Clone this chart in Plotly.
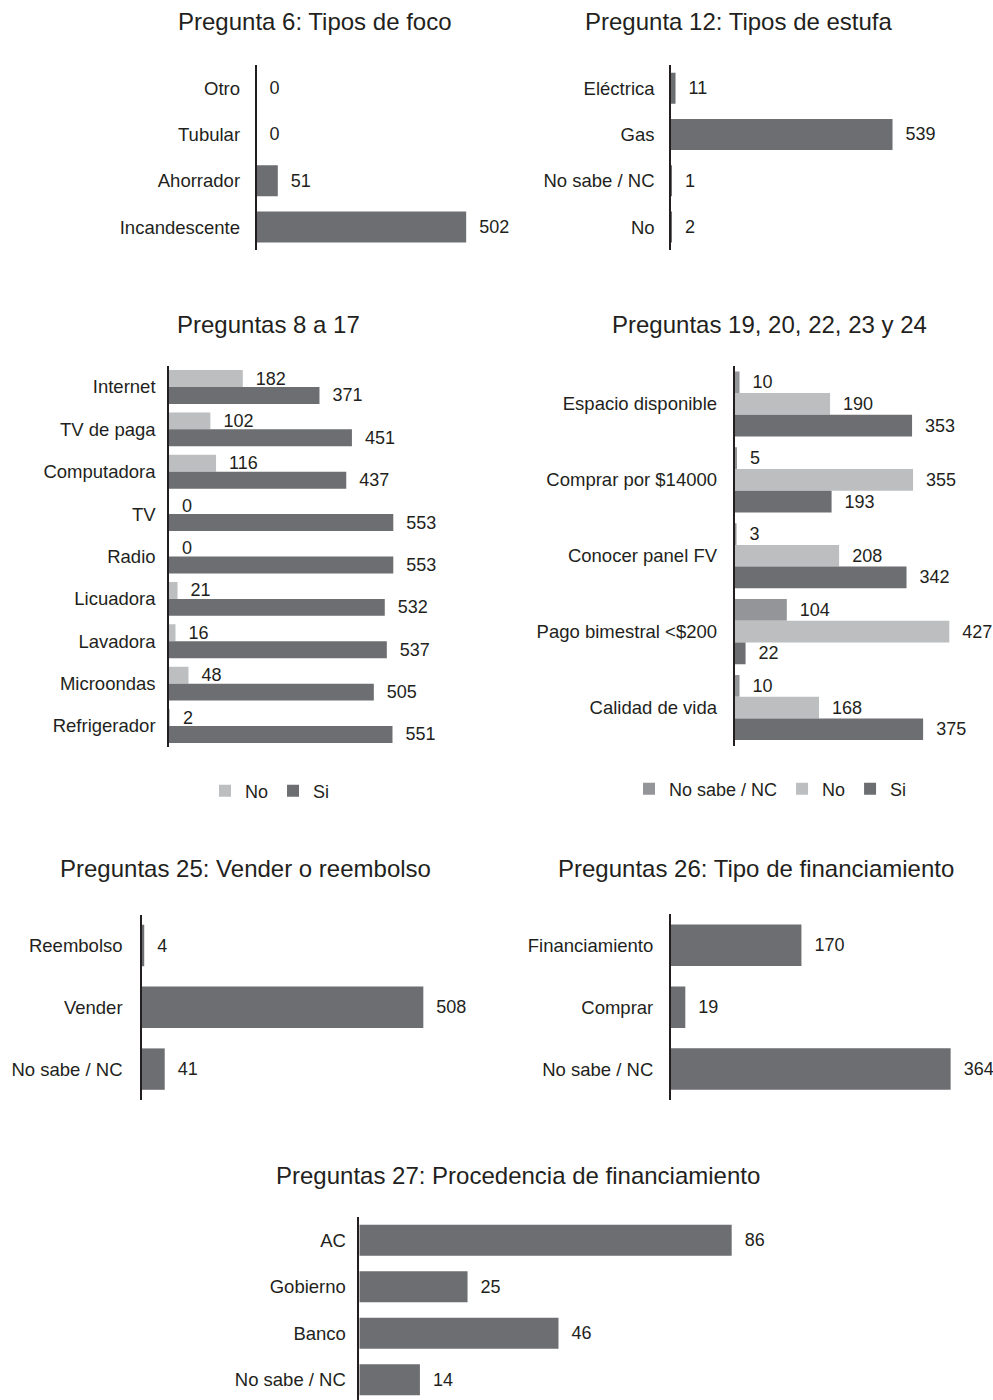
import plotly.graph_objects as go

# ---------------- data ----------------
p6_cats = ["Otro", "Tubular", "Ahorrador", "Incandescente"]
p6_vals = [0, 0, 51, 502]

p12_cats = ["Eléctrica", "Gas", "No sabe / NC", "No"]
p12_vals = [11, 539, 1, 2]

p8_cats = ["Internet", "TV de paga", "Computadora", "TV", "Radio",
           "Licuadora", "Lavadora", "Microondas", "Refrigerador"]
p8_no = [182, 102, 116, 0, 0, 21, 16, 48, 2]
p8_si = [371, 451, 437, 553, 553, 532, 537, 505, 551]

p19_cats = ["Espacio disponible", "Comprar por $14000", "Conocer panel FV",
            "Pago bimestral <$200", "Calidad de vida"]
p19_nc = [10, 5, 3, 104, 10]
p19_no = [190, 355, 208, 427, 168]
p19_si = [353, 193, 342, 22, 375]

p25_cats = ["Reembolso", "Vender", "No sabe / NC"]
p25_vals = [4, 508, 41]

p26_cats = ["Financiamiento", "Comprar", "No sabe / NC"]
p26_vals = [170, 19, 364]

p27_cats = ["AC", "Gobierno", "Banco", "No sabe / NC"]
p27_vals = [86, 25, 46, 14]

titles = ["Pregunta 6: Tipos de foco", "Pregunta 12: Tipos de estufa",
          "Preguntas 8 a 17", "Preguntas 19, 20, 22, 23 y 24",
          "Preguntas 25: Vender o reembolso", "Preguntas 26: Tipo de financiamiento",
          "Preguntas 27: Procedencia de financiamiento"]

# ---------------- style ----------------
W, H = 993, 1400
FONT = "Liberation Sans, Arial, sans-serif"
TXT = "#231f20"
DARK = "#6d6e71"
LIGHT = "#bcbec0"
MID = "#939598"
PAD = "\u00a0\u00a0"


def px_x(p):
    return p / W


def px_y(p):
    return 1 - p / H


fig = go.Figure()

panels = {
    1: dict(x0=256.5, s=0.4177, R=600, yt=65, yb=250.2, n=4, so=11),
    2: dict(x0=671.0, s=0.411, R=600, yt=65, yb=250.2, n=4, so=11),
    3: dict(x0=169.0, s=0.4056, R=600, yt=365.8, yb=747.2, n=9, so=8),
    4: dict(x0=734.5, s=0.503, R=450, yt=366, yb=745.5, n=5, so=12),
    5: dict(x0=142.0, s=0.5538, R=550, yt=914.6, yb=1100, n=3, so=14),
    6: dict(x0=670.7, s=0.769, R=400, yt=914.4, yb=1100, n=3, so=12),
    7: dict(x0=359.3, s=4.33, R=100, yt=1217, yb=1400, n=4, so=8),
}


def add_bar(k, cats, vals, color, name, width, offset, legend=None, showlegend=False):
    fig.add_trace(go.Bar(
        y=cats, x=vals, orientation="h", name=name,
        marker=dict(color=color, line=dict(width=0)),
        width=width, offset=offset,
        text=vals, texttemplate=PAD + "%{x}", textposition="outside",
        textfont=dict(family=FONT, size=18, color=TXT),
        constraintext="none", cliponaxis=False,
        xaxis="x" if k == 1 else f"x{k}", yaxis="y" if k == 1 else f"y{k}",
        showlegend=showlegend, legend=legend, hoverinfo="skip",
    ))


add_bar(1, p6_cats, p6_vals, DARK, "Si", 0.67, -0.335)
add_bar(2, p12_cats, p12_vals, DARK, "Si", 0.67, -0.335)
add_bar(3, p8_cats, p8_no, LIGHT, "No", 0.40, -0.40, legend="legend", showlegend=True)
add_bar(3, p8_cats, p8_si, DARK, "Si", 0.40, 0.0, legend="legend", showlegend=True)
add_bar(4, p19_cats, p19_nc, MID, "No sabe / NC", 0.286, -0.429, legend="legend2", showlegend=True)
add_bar(4, p19_cats, p19_no, LIGHT, "No", 0.286, -0.143, legend="legend2", showlegend=True)
add_bar(4, p19_cats, p19_si, DARK, "Si", 0.286, 0.143, legend="legend2", showlegend=True)
add_bar(5, p25_cats, p25_vals, DARK, "Si", 0.67, -0.335)
add_bar(6, p26_cats, p26_vals, DARK, "Si", 0.67, -0.335)
add_bar(7, p27_cats, p27_vals, DARK, "Si", 0.67, -0.335)

layout = dict(
    width=W, height=H, margin=dict(l=0, r=0, t=0, b=0),
    paper_bgcolor="white", plot_bgcolor="white",
    font=dict(family=FONT, size=18, color=TXT),
    barmode="overlay",
)

for k, p in panels.items():
    xa = "xaxis" if k == 1 else f"xaxis{k}"
    ya = "yaxis" if k == 1 else f"yaxis{k}"
    xref = "x" if k == 1 else f"x{k}"
    yref = "y" if k == 1 else f"y{k}"
    xd0 = px_x(p["x0"])
    xd1 = min(1.0, px_x(p["x0"] + p["R"] * p["s"]))
    span_px = p["yb"] - p["yt"]
    cat_px = span_px / p["n"] if k != 7 else 46.5
    bottom = -0.5 + span_px / cat_px
    layout[xa] = dict(domain=[xd0, xd1], range=[0, p["R"]], visible=False,
                      anchor=yref, fixedrange=True)
    layout[ya] = dict(domain=[px_y(p["yb"]), px_y(p["yt"])], range=[bottom, -0.5],
                      anchor=xref, showline=True, linecolor=TXT, linewidth=1.5,
                      ticks="", showgrid=False, zeroline=False, ticklabelstandoff=p["so"],
                      tickfont=dict(family=FONT, size=18.5, color=TXT), fixedrange=True,
                      automargin=False)

fig.update_layout(**layout)

fig.update_layout(
    legend=dict(orientation="h", x=270 / W, y=px_y(791), xanchor="center", yanchor="middle",
                font=dict(family=FONT, size=18, color=TXT), bgcolor="rgba(0,0,0,0)",
                traceorder="normal", itemclick=False, itemdoubleclick=False),
    legend2=dict(orientation="h", x=770.5 / W, y=px_y(789), xanchor="center", yanchor="middle",
                 font=dict(family=FONT, size=18, color=TXT), bgcolor="rgba(0,0,0,0)",
                 traceorder="normal", itemclick=False, itemdoubleclick=False),
)

title_pos = [(314.5, 22), (738.8, 22), (268, 324.7), (769.3, 324.7),
             (245.5, 868.7), (756.3, 868.7), (517.5, 1175.5)]
for t, (tx, ty) in zip(titles, title_pos):
    fig.add_annotation(text=t, x=tx / W, y=px_y(ty), xref="paper", yref="paper",
                       xanchor="center", yanchor="middle", showarrow=False,
                       font=dict(family=FONT, size=24, color=TXT))

fig.write_html("out.html")
